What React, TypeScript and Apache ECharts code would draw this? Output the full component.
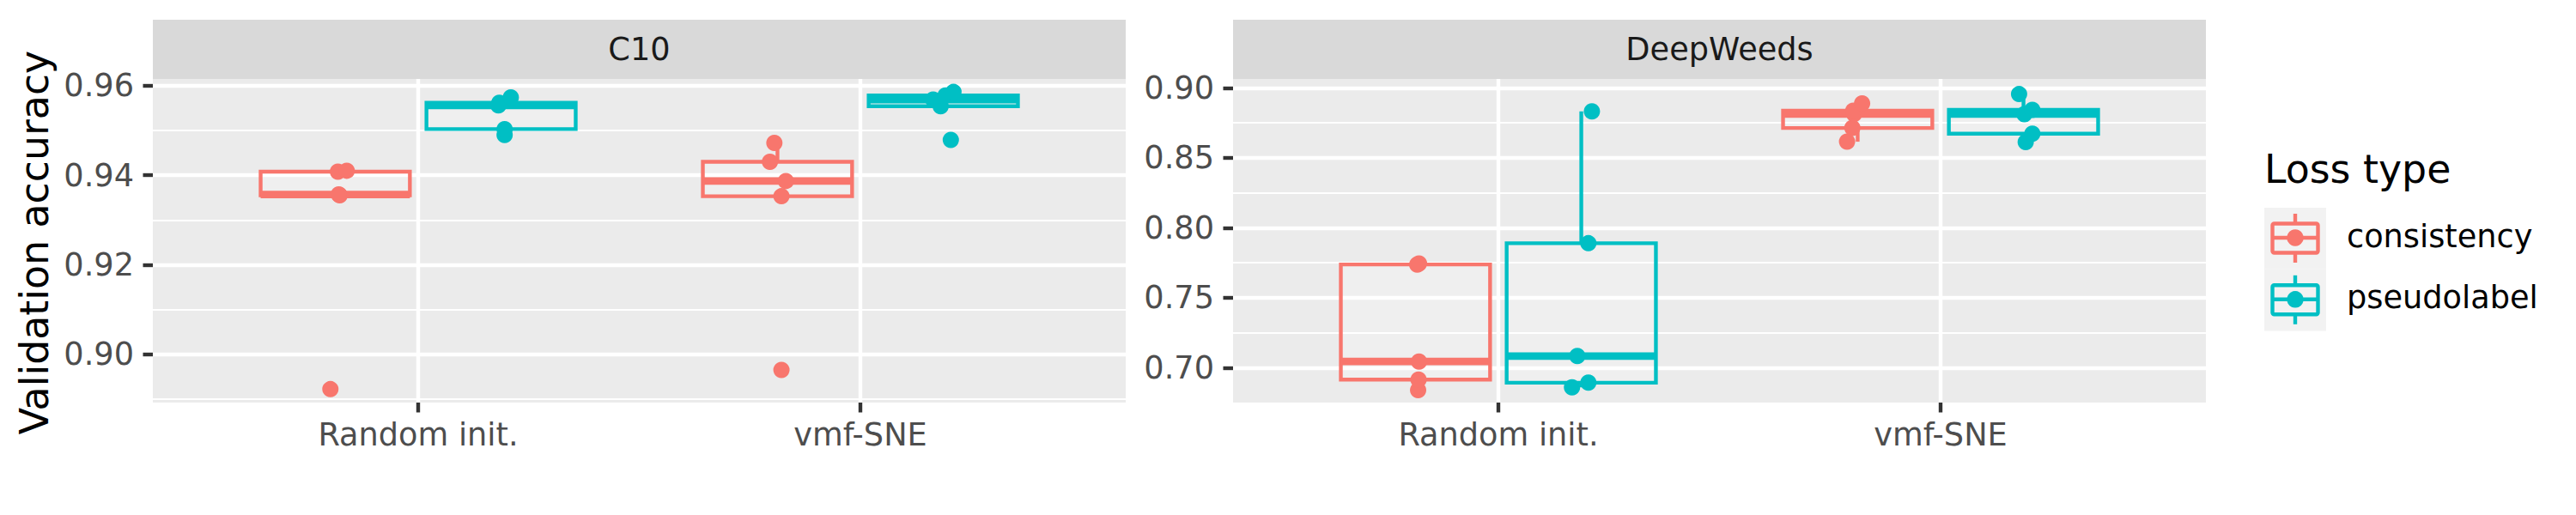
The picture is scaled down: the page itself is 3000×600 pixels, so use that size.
import React, { useEffect, useRef } from "react";
import * as echarts from "echarts";

// ---------- data ----------
const datasets = ["C10", "DeepWeeds"];
const initMethods = ["Random init.", "vmf-SNE"];
const lossTypes = ["consistency", "pseudolabel"];
const lossColors = ["#F8766D", "#00BFC4"];

// C10 validation accuracy (5 runs each)
const c10RandomConsistency = [0.8922, 0.9355, 0.9357, 0.9408, 0.941];
const c10RandomPseudolabel = [0.949, 0.9503, 0.9556, 0.9562, 0.9574];
const c10VmfConsistency = [0.8965, 0.9353, 0.9387, 0.943, 0.9472];
const c10VmfPseudolabel = [0.9479, 0.9554, 0.9569, 0.9578, 0.9586];

// DeepWeeds validation accuracy (5 runs each)
const dwRandomConsistency = [0.6841, 0.6916, 0.7045, 0.7738, 0.7745];
const dwRandomPseudolabel = [0.6861, 0.6894, 0.7084, 0.789, 0.8832];
const dwVmfConsistency = [0.8615, 0.8713, 0.8813, 0.8836, 0.8889];
const dwVmfPseudolabel = [0.8613, 0.8672, 0.8812, 0.8842, 0.8955];

// horizontal jitter of the points (x units)
const c10RandomConsistencyJitter = [-0.011, 0.01, 0.008, 0.006, 0.026];
const c10RandomPseudolabelJitter = [0.008, 0.008, -0.006, -0.004, 0.022];
const c10VmfConsistencyJitter = [0.009, 0.009, 0.019, -0.017, -0.007];
const c10VmfPseudolabelJitter = [0.017, -0.006, -0.023, 0.005, 0.023];
const dwRandomConsistencyJitter = [0.006, 0.007, 0.008, 0.004, 0.008];
const dwRandomPseudolabelJitter = [-0.021, 0.016, -0.009, 0.016, 0.024];
const dwVmfConsistencyJitter = [-0.024, -0.012, -0.008, -0.01, 0.01];
const dwVmfPseudolabelJitter = [0.005, 0.02, 0.002, 0.02, -0.01];

// y axes
const c10YLimits = [0.8892, 0.9615];
const dwYLimits = [0.6752, 0.9063];
const c10YTicks = [0.9, 0.92, 0.94, 0.96];
const c10YMinor = [0.89, 0.91, 0.93, 0.95];
const dwYTicks = [0.7, 0.75, 0.8, 0.85, 0.9];
const dwYMinor = [0.675, 0.725, 0.775, 0.825, 0.875];

const yTitle = "Validation accuracy";
const legendTitle = "Loss type";

// panel -> init -> loss
const panelValues = [
  [
    [c10RandomConsistency, c10RandomPseudolabel],
    [c10VmfConsistency, c10VmfPseudolabel],
  ],
  [
    [dwRandomConsistency, dwRandomPseudolabel],
    [dwVmfConsistency, dwVmfPseudolabel],
  ],
];
const panelJitter = [
  [
    [c10RandomConsistencyJitter, c10RandomPseudolabelJitter],
    [c10VmfConsistencyJitter, c10VmfPseudolabelJitter],
  ],
  [
    [dwRandomConsistencyJitter, dwRandomPseudolabelJitter],
    [dwVmfConsistencyJitter, dwVmfPseudolabelJitter],
  ],
];
const panelLimits = [c10YLimits, dwYLimits];
const panelTicks = [c10YTicks, dwYTicks];
const panelMinor = [c10YMinor, dwYMinor];

// ---------- helpers ----------
function quantile(sorted: number[], p: number) {
  const h = (sorted.length - 1) * p;
  const lo = Math.floor(h);
  const hi = Math.min(lo + 1, sorted.length - 1);
  return sorted[lo] + (h - lo) * (sorted[hi] - sorted[lo]);
}
function boxStats(values: number[]) {
  const s = [...values].sort((a, b) => a - b);
  const q1 = quantile(s, 0.25);
  const med = quantile(s, 0.5);
  const q3 = quantile(s, 0.75);
  const iqr = q3 - q1;
  const inside = s.filter((v) => v >= q1 - 1.5 * iqr && v <= q3 + 1.5 * iqr);
  return [inside[0], q1, med, q3, inside[inside.length - 1]];
}

const FONT = "DejaVu Sans";
const LW = 4.4;
const DODGE = 0.1875;
const BOX_W = 0.3375;

const panelLeft = [178, 1436];
const panelWidth = 1133;
const panelTop = 92;
const panelHeight = 377;
const stripTop = 23;

export default function App() {
  const ref = useRef<HTMLDivElement>(null);

  useEffect(() => {
    document.body.style.margin = "0";
    if (!ref.current) return;
    const chart = echarts.init(ref.current, null, { renderer: "svg" });

    const grids: any[] = [];
    const xAxes: any[] = [];
    const yAxes: any[] = [];
    const series: any[] = [];
    const graphics: any[] = [];

    for (let p = 0; p < 2; p++) {
      grids.push({
        left: panelLeft[p],
        top: panelTop,
        width: panelWidth,
        height: panelHeight,
        show: true,
        backgroundColor: "#EBEBEB",
        borderWidth: 0,
      });
      xAxes.push({
        type: "value",
        gridIndex: p,
        min: 0.4,
        max: 2.6,
        axisLine: { show: false },
        axisTick: {
          show: true,
          customValues: [1, 2],
          length: 11.5,
          lineStyle: { color: "#333333", width: LW },
        },
        axisLabel: {
          show: true,
          customValues: [1, 2],
          formatter: (v: number) => initMethods[Math.round(v) - 1] ?? "",
          fontFamily: FONT,
          fontSize: 36.7,
          color: "#4D4D4D",
          margin: 19,
        },
        splitLine: { show: true, lineStyle: { color: "#FFFFFF", width: LW } },
      });
      yAxes.push({
        type: "value",
        gridIndex: p,
        min: panelLimits[p][0],
        max: panelLimits[p][1],
        axisLine: { show: false },
        axisTick: {
          show: true,
          customValues: panelTicks[p],
          length: 11.5,
          lineStyle: { color: "#333333", width: LW },
        },
        axisLabel: {
          show: true,
          customValues: panelTicks[p],
          formatter: (v: number) => v.toFixed(2),
          fontFamily: FONT,
          fontSize: 36.7,
          color: "#4D4D4D",
          margin: 22,
        },
        splitLine: { show: true, lineStyle: { color: "#FFFFFF", width: LW } },
        z: 1,
      });
      yAxes.push({
        type: "value",
        gridIndex: p,
        position: "right",
        min: panelLimits[p][0],
        max: panelLimits[p][1],
        axisLine: { show: false },
        axisTick: { show: false, customValues: panelMinor[p] },
        axisLabel: { show: false, customValues: panelMinor[p] },
        splitLine: { show: true, lineStyle: { color: "#FFFFFF", width: LW / 2 } },
        z: 0,
      });

      for (let l = 0; l < 2; l++) {
        const color = lossColors[l];
        const boxData: number[][] = [];
        const pointData: number[][] = [];
        for (let i = 0; i < 2; i++) {
          const xc = i + 1 + (l === 0 ? -DODGE : DODGE);
          const vals = panelValues[p][i][l];
          const jit = panelJitter[p][i][l];
          boxData.push([xc, ...boxStats(vals)]);
          vals.forEach((v, k) => pointData.push([xc + jit[k], v]));
        }
        series.push({
          type: "custom",
          name: lossTypes[l],
          xAxisIndex: p,
          yAxisIndex: p * 2,
          encode: { x: 0, y: [1, 2, 3, 4, 5] },
          data: boxData,
          z: 2,
          renderItem: (params: any, api: any) => {
            const x = api.value(0);
            const lo = api.value(1);
            const q1 = api.value(2);
            const med = api.value(3);
            const q3 = api.value(4);
            const hi = api.value(5);
            const tl = api.coord([x - BOX_W / 2, q3]);
            const br = api.coord([x + BOX_W / 2, q1]);
            const ml = api.coord([x - BOX_W / 2, med]);
            const mr = api.coord([x + BOX_W / 2, med]);
            const pHi = api.coord([x, hi]);
            const pQ3 = api.coord([x, q3]);
            const pQ1 = api.coord([x, q1]);
            const pLo = api.coord([x, lo]);
            return {
              type: "group",
              children: [
                {
                  type: "line",
                  shape: { x1: pHi[0], y1: pHi[1], x2: pQ3[0], y2: pQ3[1] },
                  style: { stroke: color, lineWidth: LW },
                },
                {
                  type: "line",
                  shape: { x1: pQ1[0], y1: pQ1[1], x2: pLo[0], y2: pLo[1] },
                  style: { stroke: color, lineWidth: LW },
                },
                {
                  type: "rect",
                  shape: { x: tl[0], y: tl[1], width: br[0] - tl[0], height: br[1] - tl[1] },
                  style: { fill: "rgba(255,255,255,0.2)", stroke: color, lineWidth: LW, lineJoin: "miter" },
                },
                {
                  type: "line",
                  shape: { x1: ml[0], y1: ml[1], x2: mr[0], y2: mr[1] },
                  style: { stroke: color, lineWidth: LW * 2 },
                },
              ],
            };
          },
        });
        series.push({
          type: "scatter",
          name: lossTypes[l],
          xAxisIndex: p,
          yAxisIndex: p * 2,
          data: pointData,
          symbol: "circle",
          symbolSize: 19,
          itemStyle: { color, opacity: 1 },
          z: 3,
        });
      }

      // strip
      graphics.push({
        type: "rect",
        shape: { x: panelLeft[p], y: stripTop, width: panelWidth, height: panelTop - stripTop },
        style: { fill: "#D9D9D9" },
        silent: true,
      });
      graphics.push({
        type: "text",
        x: panelLeft[p] + panelWidth / 2,
        y: (stripTop + panelTop) / 2,
        style: {
          text: datasets[p],
          fontFamily: FONT,
          fontSize: 36.7,
          fill: "#1A1A1A",
          align: "center",
          verticalAlign: "middle",
          textAlign: "center",
          textVerticalAlign: "middle",
        },
        silent: true,
      });
    }

    // y axis title
    graphics.push({
      type: "text",
      x: 40,
      y: panelTop + panelHeight / 2 + 2,
      rotation: Math.PI / 2,
      style: {
        text: yTitle,
        fontFamily: FONT,
        fontSize: 45.8,
        fill: "#000000",
        align: "center",
        verticalAlign: "middle",
        textAlign: "center",
        textVerticalAlign: "middle",
      },
      silent: true,
    });

    // legend
    const lgX = 2637;
    graphics.push({
      type: "text",
      x: lgX,
      y: 197,
      style: {
        text: legendTitle,
        fontFamily: FONT,
        fontSize: 45.8,
        fill: "#000000",
        align: "left",
        verticalAlign: "middle",
        textAlign: "left",
        textVerticalAlign: "middle",
      },
      silent: true,
    });
    lossTypes.forEach((name, l) => {
      const top = 242 + l * 71.8;
      const cx = lgX + 36;
      const cy = top + 35;
      const color = lossColors[l];
      graphics.push({
        type: "rect",
        shape: { x: lgX, y: top, width: 72, height: 71.8 },
        style: { fill: "#F2F2F2" },
        silent: true,
      });
      graphics.push({
        type: "line",
        shape: { x1: cx, y1: cy - 28, x2: cx, y2: cy + 29 },
        style: { stroke: color, lineWidth: LW },
        silent: true,
      });
      graphics.push({
        type: "rect",
        shape: { x: lgX + 9.5, y: cy - 16.5, width: 53, height: 34, r: 2 },
        style: { fill: "#F2F2F2", stroke: color, lineWidth: LW },
        silent: true,
      });
      graphics.push({
        type: "line",
        shape: { x1: lgX + 9.5, y1: cy, x2: lgX + 62.5, y2: cy },
        style: { stroke: color, lineWidth: LW },
        silent: true,
      });
      graphics.push({
        type: "circle",
        shape: { cx, cy, r: 9.7 },
        style: { fill: color },
        silent: true,
      });
      graphics.push({
        type: "text",
        x: 2733,
        y: cy - 2,
        style: {
          text: name,
          fontFamily: FONT,
          fontSize: 36.7,
          fill: "#000000",
          align: "left",
          verticalAlign: "middle",
          textAlign: "left",
          textVerticalAlign: "middle",
        },
        silent: true,
      });
    });

    chart.setOption({
      animation: false,
      backgroundColor: "#FFFFFF",
      textStyle: { fontFamily: FONT },
      grid: grids,
      xAxis: xAxes,
      yAxis: yAxes,
      series,
      graphic: graphics,
    });

    return () => chart.dispose();
  }, []);

  return <div ref={ref} style={{ width: 3000, height: 600 }} />;
}
